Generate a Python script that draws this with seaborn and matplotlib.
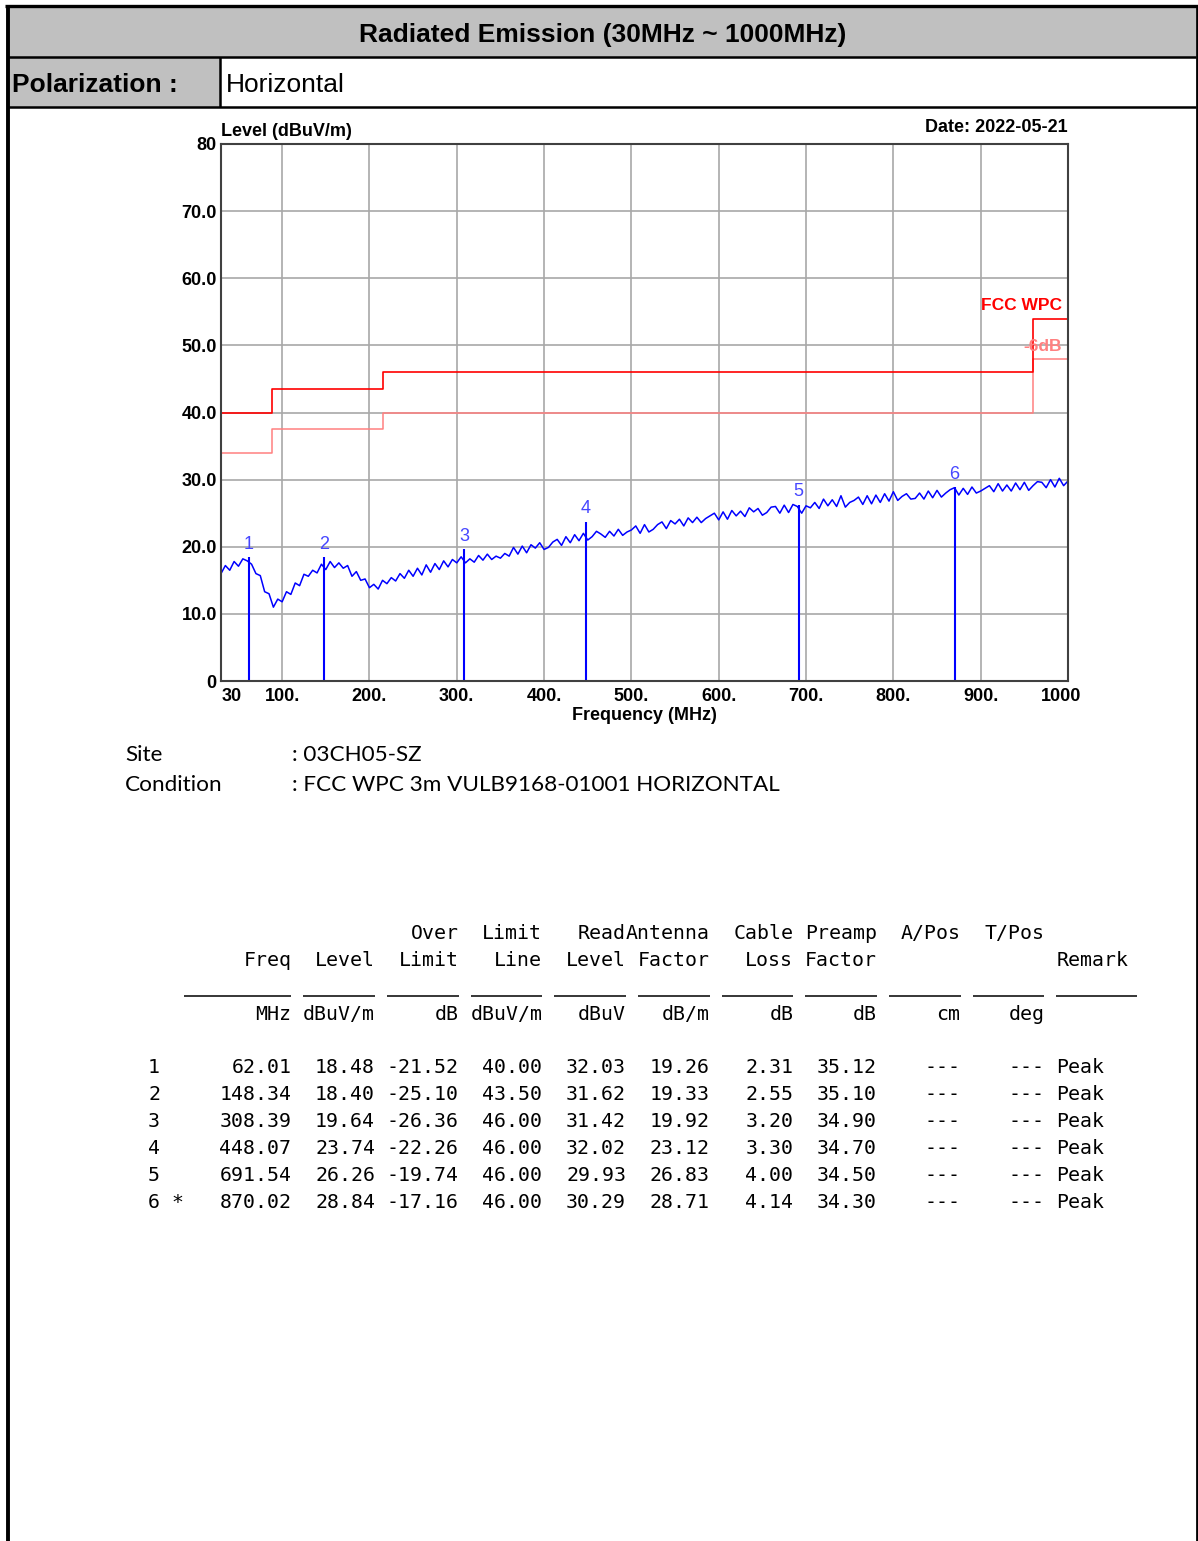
import numpy as np
import matplotlib
matplotlib.use("Agg")
import matplotlib.pyplot as plt
from matplotlib.lines import Line2D
from matplotlib.patches import Rectangle
from matplotlib.transforms import ScaledTranslation
import seaborn as sns

# ---- data ----
# sweep trace, one reading every 5 MHz (30 .. 1000 MHz)
sweep_freq = np.arange(30, 1001, 5)
sweep_level = [
    16.0, 17.2, 16.5, 17.8, 17.1, 18.2, 17.9, 17.4, 16.0, 15.7,
    13.3, 13.0, 11.0, 12.2, 11.8, 13.3, 12.9, 14.6, 14.2, 15.9,
    15.6, 16.5, 16.1, 17.4, 16.6, 17.8, 16.9, 17.6, 16.8, 17.2,
    15.6, 16.3, 15.0, 15.2, 13.9, 14.4, 13.7, 15.0, 14.5, 15.4,
    14.9, 16.0, 15.3, 16.5, 15.6, 16.8, 15.8, 17.3, 16.2, 17.5,
    16.6, 17.9, 17.0, 18.1, 17.6, 18.5, 17.6, 18.2, 17.7, 18.7,
    18.0, 18.9, 18.1, 18.6, 18.3, 19.0, 18.6, 19.9, 18.9, 20.1,
    19.1, 20.3, 19.8, 20.6, 19.6, 19.9, 20.7, 21.1, 20.2, 21.5,
    20.6, 21.8, 20.9, 22.0, 21.0, 21.5, 22.3, 21.9, 21.4, 22.3,
    21.6, 22.6, 21.7, 22.2, 22.5, 23.1, 22.0, 23.3, 22.2, 22.6,
    23.3, 23.7, 22.7, 23.9, 23.4, 24.1, 23.1, 24.3, 23.6, 24.4,
    23.6, 24.2, 24.6, 25.0, 24.0, 25.2, 24.1, 25.4, 24.6, 25.3,
    24.5, 25.8, 25.2, 25.7, 24.7, 25.1, 25.9, 26.0, 25.0, 26.2,
    25.1, 26.3, 26.0, 25.0, 26.1, 25.8, 26.6, 25.7, 27.1, 26.1,
    27.0, 26.0, 27.6, 25.9, 26.6, 26.9, 27.4, 26.3, 27.6, 26.4,
    27.7, 26.6, 27.9, 26.8, 28.2, 26.9, 27.5, 27.9, 27.1, 27.2,
    28.0, 27.1, 28.3, 27.3, 28.4, 27.4, 28.0, 28.5, 28.8, 27.7,
    28.7, 27.8, 28.9, 28.0, 28.3, 28.7, 29.1, 28.2, 29.4, 28.3,
    29.2, 28.3, 29.5, 28.5, 29.6, 28.4, 29.1, 29.7, 29.6, 28.8,
    30.0, 28.9, 30.2, 29.1, 29.8,
]

# FCC WPC limit and the -6dB margin line
limit_freq = [30, 88, 216, 960, 1000]
limit_level = [40.0, 43.5, 46.0, 54.0, 54.0]
margin_level = [34.0, 37.5, 40.0, 48.0, 48.0]

# marked peaks / table
peak_no = [1, 2, 3, 4, 5, 6]
peak_freq = [62.01, 148.34, 308.39, 448.07, 691.54, 870.02]
peak_level = [18.48, 18.40, 19.64, 23.74, 26.26, 28.84]
over_limit = [-21.52, -25.10, -26.36, -22.26, -19.74, -17.16]
limit_line = [40.00, 43.50, 46.00, 46.00, 46.00, 46.00]
read_level = [32.03, 31.62, 31.42, 32.02, 29.93, 30.29]
antenna_factor = [19.26, 19.33, 19.92, 23.12, 26.83, 28.71]
cable_loss = [2.31, 2.55, 3.20, 3.30, 4.00, 4.14]
preamp_factor = [35.12, 35.10, 34.90, 34.70, 34.50, 34.30]
remark = ["Peak"] * 6

head_top = ["", "", "Over", "Limit", "Read", "Antenna", "Cable", "Preamp", "A/Pos", "T/Pos"]
head_mid = ["Freq", "Level", "Limit", "Line", "Level", "Factor", "Loss", "Factor", "", ""]
head_unit = ["MHz", "dBuV/m", "dB", "dBuV/m", "dBuV", "dB/m", "dB", "dB", "cm", "deg"]

yticks = [0, 10, 20, 30, 40, 50, 60, 70, 80]
ytick_labels = ["0", "10.0", "20.0", "30.0", "40.0", "50.0", "60.0", "70.0", "80"]
xticks = [30, 100, 200, 300, 400, 500, 600, 700, 800, 900, 1000]
xtick_labels = ["30", "100.", "200.", "300.", "400.", "500.", "600.", "700.", "800.", "900.", "1000"]

# ---- figure ----
W, H = 1198, 1541
sns.set_theme(style="white")
plt.rcParams['font.family'] = ['Liberation Sans', 'DejaVu Sans']
plt.rcParams['text.color'] = 'black'

fig = plt.figure(figsize=(W / 100, H / 100), dpi=100)
fig.patch.set_facecolor("white")

def fx(x):
    return x / W

def fy(y):
    return 1 - y / H

def hline(x0, x1, y, lw):
    fig.add_artist(Line2D([fx(x0), fx(x1)], [fy(y), fy(y)], transform=fig.transFigure,
                          color="black", lw=lw, solid_capstyle="butt"))

def vline(x, y0, y1, lw):
    fig.add_artist(Line2D([fx(x), fx(x)], [fy(y0), fy(y1)], transform=fig.transFigure,
                          color="black", lw=lw, solid_capstyle="butt"))

# header boxes
fig.add_artist(Rectangle((fx(8), fy(57)), fx(1196) - fx(8), fy(6) - fy(57),
                         transform=fig.transFigure, facecolor="#c0c0c0", edgecolor="none"))
fig.add_artist(Rectangle((fx(8), fy(107)), fx(220) - fx(8), fy(57) - fy(107),
                         transform=fig.transFigure, facecolor="#c0c0c0", edgecolor="none"))
hline(5, 1198, 6, 2.4)
hline(8, 1196, 57, 1.8)
hline(8, 1196, 107, 1.8)
vline(220, 57, 107, 1.8)
vline(8, 5, 1541, 2.8)
vline(1196.5, 5, 1541, 2.0)

fig.text(fx(603), fy(35), "Radiated Emission (30MHz ~ 1000MHz)", ha="center", va="center",
         fontsize=19, fontweight="bold")
fig.text(fx(12), fy(85), "Polarization :", ha="left", va="center", fontsize=19, fontweight="bold")
fig.text(fx(226), fy(85), "Horizontal", ha="left", va="center", fontsize=19)

# ---- chart ----
ax = fig.add_axes([fx(221), fy(681), 847 / W, 537 / H])
ax.set_facecolor("white")

ax.step(limit_freq, margin_level, where="post", color="#ff8080", lw=1.1)
ax.step(limit_freq, limit_level, where="post", color="#ff0000", lw=1.2)
sns.lineplot(x=sweep_freq, y=sweep_level, ax=ax, color="#0000ff", lw=1.1, sort=False)
ax.vlines(peak_freq, 0, peak_level, color="#0000ff", lw=1.5)
for n, f, lv in zip(peak_no, peak_freq, peak_level):
    ax.text(f, lv + 1.9, str(n), ha="center", va="center", color="#4646ff", fontsize=13)

ax.text(993, 55.9, "FCC WPC", ha="right", va="center", color="#ff0000",
        fontsize=12.5, fontweight="bold")
ax.text(993, 49.8, "-6dB", ha="right", va="center", color="#ff8080",
        fontsize=12.5, fontweight="bold")

ax.set_xlim(30, 1000)
ax.set_ylim(0, 80)
ax.set_xticks(xticks, xtick_labels)
ax.set_yticks(yticks, ytick_labels)
ax.tick_params(length=0, labelsize=13, pad=3, colors="black")
ax.tick_params(axis="x", pad=5)
for lbl in ax.get_xticklabels() + ax.get_yticklabels():
    lbl.set_fontweight("bold")
xl = ax.get_xticklabels()
xl[0].set_ha("left")
xl[0].set_transform(xl[0].get_transform() + ScaledTranslation(1 / 100, 0, fig.dpi_scale_trans))
xl[-1].set_transform(xl[-1].get_transform() + ScaledTranslation(-7 / 100, 0, fig.dpi_scale_trans))
ax.grid(True, color="#a8a8a8", lw=1.2)
for sp in ax.spines.values():
    sp.set_color("#404040")
    sp.set_linewidth(1.5)
ax.set_xlabel("")
ax.set_ylabel("")

fig.text(fx(221), fy(131), "Level (dBuV/m)", ha="left", va="center", fontsize=13, fontweight="bold")
fig.text(fx(1068), fy(128), "Date: 2022-05-21", ha="right", va="center", fontsize=13, fontweight="bold")
fig.text(fx(644), fy(716), "Frequency (MHz)", ha="center", va="center", fontsize=13, fontweight="bold")

# ---- site / condition ----
info_font = ["Lato", "DejaVu Sans"]
fig.text(fx(125), fy(755), "Site", ha="left", va="center", fontsize=16.2, family=info_font)
fig.text(fx(292), fy(755), ": 03CH05-SZ", ha="left", va="center", fontsize=16.2, family=info_font)
fig.text(fx(125), fy(785), "Condition", ha="left", va="center", fontsize=16.2, family=info_font)
fig.text(fx(292), fy(785), ": FCC WPC 3m VULB9168-01001 HORIZONTAL", ha="left", va="center",
         fontsize=16.2, family=info_font)

# ---- result table, fixed character grid ----
cw = 11.95                      # character pitch in px
x0 = 148                        # left edge of the first character
col_end = [12, 19, 26, 33, 40, 47, 54, 61, 68, 75]   # right edge of each column, in chars
col_start = [3, 13, 20, 27, 34, 41, 48, 55, 62, 69]  # start of each underline, in chars
remark_col = 76

mono = dict(family=["DejaVu Sans Mono"], fontsize=14.3, color="black", va="baseline")

def cell(col_chars, y, s, ha="right"):
    fig.text(fx(x0 + col_chars * cw), fy(y), s, ha=ha, **mono)

for k in range(10):
    if head_top[k]:
        cell(col_end[k], 939, head_top[k])
    if head_mid[k]:
        cell(col_end[k], 966, head_mid[k])
    cell(col_end[k], 1020, head_unit[k])
    hline(x0 + col_start[k] * cw, x0 + col_end[k] * cw, 996, 1.1)
cell(remark_col, 966, "Remark", ha="left")
hline(x0 + remark_col * cw, x0 + (remark_col + 7) * cw - 3, 996, 1.1)

worst = int(np.argmax(over_limit))
for i in range(len(peak_no)):
    y = 1073 + 27 * i
    cell(0, y, str(peak_no[i]), ha="left")
    if i == worst:
        cell(2, y, "*", ha="left")
    vals = [peak_freq[i], peak_level[i], over_limit[i], limit_line[i], read_level[i],
            antenna_factor[i], cable_loss[i], preamp_factor[i]]
    for k, v in enumerate(vals):
        cell(col_end[k], y, f"{v:.2f}")
    cell(col_end[8], y, "---")
    cell(col_end[9], y, "---")
    cell(remark_col, y, remark[i], ha="left")

fig.savefig("out.png", dpi=100, facecolor="white")
